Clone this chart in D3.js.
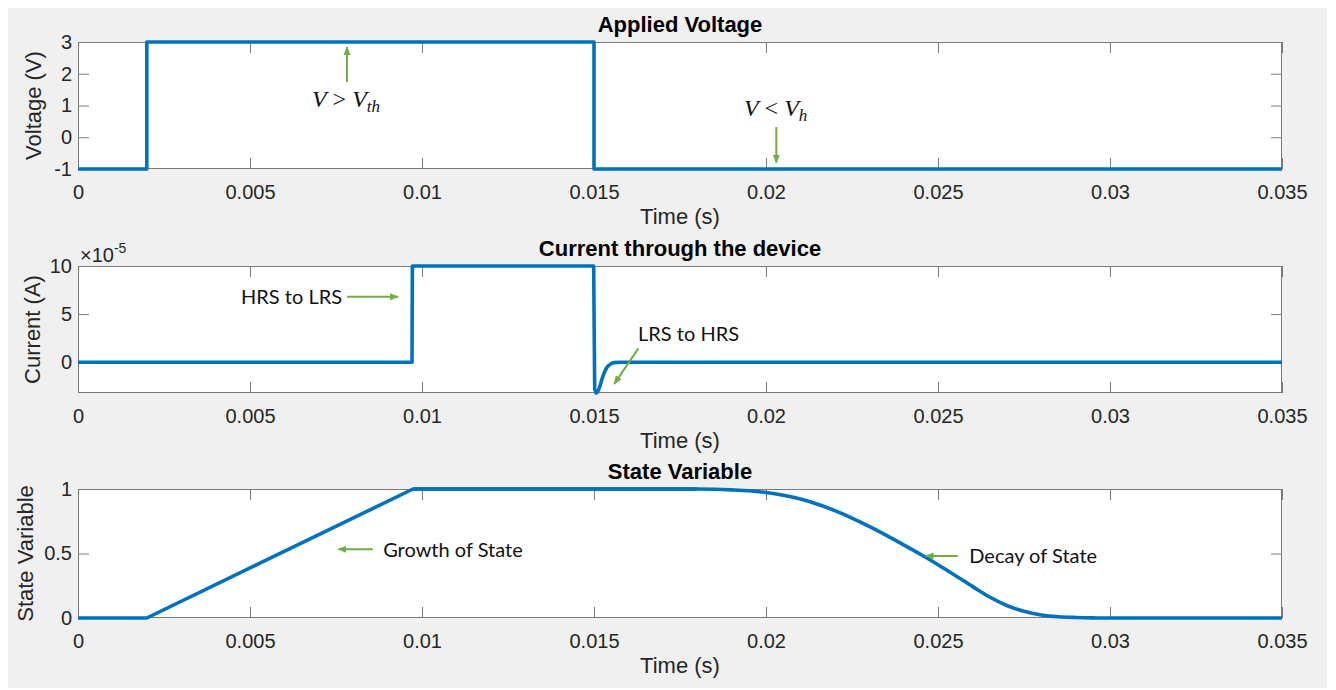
<!DOCTYPE html>
<html><head><meta charset="utf-8">
<script src="https://cdn.jsdelivr.net/npm/d3@7"></script>
<style>
body{margin:0;background:#fff;}
svg{display:block;}
text{white-space:pre;}
</style>
</head><body>
<svg id="chart" width="1336" height="690"></svg>
<script>
// ---------- DATA ----------
const timeDomain = [0, 0.035];
const xTicks = [0, 0.005, 0.01, 0.015, 0.02, 0.025, 0.03, 0.035];
const xTickLabels = ["0", "0.005", "0.01", "0.015", "0.02", "0.025", "0.03", "0.035"];

const voltageTime   = [0, 0.002, 0.002, 0.015, 0.015, 0.035];
const voltageValues = [-1, -1, 3, 3, -1, -1];
const voltageDomain = [-1, 3];
const voltageTicks = [-1, 0, 1, 2, 3];
const voltageTickLabels = ["-1", "0", "1", "2", "3"];

// current in units of 1e-5 A
const currentTime   = [0, 0.00971, 0.00972, 0.01499, 0.01502, 0.01506, 0.0151, 0.01514, 0.01518, 0.01522, 0.01527, 0.01532, 0.01537, 0.01544, 0.01551, 0.0156, 0.01576, 0.035];
const currentValues = [0, 0, 10, 10, -2.8, -3.2, -3.1, -2.8, -2.4, -1.9, -1.35, -0.9, -0.56, -0.3, -0.12, -0.04, 0, 0];
const currentDomain = [-3.2, 10];
const currentTicks = [0, 5, 10];
const currentTickLabels = ["0", "5", "10"];

const stateGrowthTime   = [0, 0.002, 0.00974, 0.018];
const stateGrowthValues = [0, 0, 1, 1];
const stateDecayTime   = [0.00974, 0.018, 0.0185, 0.019, 0.0195, 0.02, 0.0205, 0.021, 0.0215, 0.022, 0.0225, 0.023, 0.0235, 0.024, 0.0245, 0.025, 0.0255, 0.026, 0.0265, 0.027, 0.0275, 0.028, 0.0285, 0.029, 0.0295, 0.03, 0.035];
const stateDecayValues = [1, 1, 0.998, 0.993, 0.986, 0.973, 0.952, 0.922, 0.882, 0.832, 0.775, 0.71, 0.64, 0.567, 0.492, 0.413, 0.33, 0.245, 0.163, 0.097, 0.052, 0.024, 0.01, 0.004, 0.001, 0, 0];
const stateDomain = [0, 1];
const stateTicks = [0, 0.5, 1];
const stateTickLabels = ["0", "0.5", "1"];

const titles  = ["Applied Voltage", "Current through the device", "State Variable"];
const yLabels = ["Voltage (V)", "Current (A)", "State Variable"];
const xLabel  = "Time (s)";

// ---------- LAYOUT ----------
const W = 1336, H = 690;
const left = 78, right = 1282;
const panels = [
  {top: 42,  bottom: 169, domain: voltageDomain, ticks: voltageTicks, labels: voltageTickLabels, ylabX: 41},
  {top: 266, bottom: 393, domain: currentDomain, ticks: currentTicks, labels: currentTickLabels, ylabX: 40},
  {top: 489, bottom: 618, domain: stateDomain,   ticks: stateTicks,   labels: stateTickLabels,   ylabX: 33}
];
const lineColor = "#0072BD";
const green = "#70AD47";
const textColor = "#262626";
const axisColor = "#7a7a7a";
const sans = "'Liberation Sans', Arial, sans-serif";
const annoFont = "Lato, 'Open Sans', sans-serif";
const mathFont = "'Liberation Serif', 'DejaVu Serif', serif";

const svg = d3.select("#chart");
svg.append("rect").attr("x", 8).attr("y", 8).attr("width", 1319).attr("height", 680).attr("fill", "#f0f0f0");

const defs = svg.append("defs");
defs.append("marker").attr("id", "arrow")
  .attr("markerUnits", "userSpaceOnUse")
  .attr("viewBox", "0 0 10 8").attr("refX", 9).attr("refY", 4)
  .attr("markerWidth", 9).attr("markerHeight", 7).attr("orient", "auto")
  .append("path").attr("d", "M0,0 L10,4 L0,8 Z").attr("fill", green);

const x = d3.scaleLinear().domain(timeDomain).range([left, right]);
const yScales = panels.map(p => d3.scaleLinear().domain(p.domain).range([p.bottom, p.top]));

panels.forEach((p, i) => {
  const y = yScales[i];
  const g = svg.append("g");
  g.append("rect").attr("x", left).attr("y", p.top).attr("width", right - left).attr("height", p.bottom - p.top)
    .attr("fill", "#fff");

  const styleAxis = sel => {
    sel.select(".domain").remove();
    sel.selectAll(".tick line").attr("stroke", axisColor).attr("stroke-width", 1);
    sel.selectAll(".tick text").attr("fill", textColor).style("font-family", sans).style("font-size", "20px");
  };
  g.append("g").attr("transform", `translate(0,${p.bottom})`)
    .call(d3.axisBottom(x).tickValues(xTicks).tickFormat((d, k) => xTickLabels[k]).tickSize(-11).tickPadding(16))
    .call(styleAxis);
  g.append("g").attr("transform", `translate(0,${p.top})`)
    .call(d3.axisTop(x).tickValues(xTicks).tickFormat("").tickSize(-11)).call(styleAxis);
  g.append("g").attr("transform", `translate(${left},0)`)
    .call(d3.axisLeft(y).tickValues(p.ticks).tickFormat((d, k) => p.labels[k]).tickSize(-11).tickPadding(6))
    .call(styleAxis);
  g.append("g").attr("transform", `translate(${right},0)`)
    .call(d3.axisRight(y).tickValues(p.ticks).tickFormat("").tickSize(-11)).call(styleAxis);

  g.append("rect").attr("x", left + 0.5).attr("y", p.top + 0.5).attr("width", right - left - 1).attr("height", p.bottom - p.top - 1)
    .attr("fill", "none").attr("stroke", axisColor).attr("stroke-width", 1);

  // title
  g.append("text").attr("x", (left + right) / 2).attr("y", p.top - 10).attr("text-anchor", "middle")
    .style("font-family", sans).style("font-size", "22px").style("font-weight", "bold").attr("fill", "#000")
    .text(titles[i]);
  // x label
  g.append("text").attr("x", (left + right) / 2).attr("y", p.bottom + 55).attr("text-anchor", "middle")
    .style("font-family", sans).style("font-size", "22px").attr("fill", textColor).text(xLabel);
  // y label
  g.append("text").attr("transform", `translate(${p.ylabX},${(p.top + p.bottom) / 2}) rotate(-90)`)
    .attr("text-anchor", "middle").style("font-family", sans).style("font-size", "22px").attr("fill", textColor)
    .text(yLabels[i]);
});

// exponent label for current axis
const expT = svg.append("text").attr("x", 80).attr("y", 262).style("font-family", sans).style("font-size", "20px").attr("fill", textColor);
expT.append("tspan").text("\u00d710");
expT.append("tspan").attr("dy", -9).style("font-size", "14px").text("-5");

// ---------- LINES ----------
const zip = (a, b) => a.map((t, k) => [t, b[k]]);
function drawLine(panelIdx, data, curve) {
  const y = yScales[panelIdx];
  svg.append("path").datum(data)
    .attr("d", d3.line().x(d => x(d[0])).y(d => y(d[1])).curve(curve))
    .attr("fill", "none").attr("stroke", lineColor).attr("stroke-width", 3.6)
    .attr("stroke-linejoin", "round").attr("stroke-linecap", "butt");
}
drawLine(0, zip(voltageTime, voltageValues), d3.curveLinear);
drawLine(1, zip(currentTime, currentValues), d3.curveLinear);
drawLine(2, zip(stateGrowthTime, stateGrowthValues), d3.curveLinear);
drawLine(2, zip(stateDecayTime, stateDecayValues), d3.curveMonotoneX);

// ---------- ANNOTATIONS (data coordinates) ----------
const arrows = [
  {p: 0, from: [0.00782, 1.74], to: [0.00782, 2.84]},
  {p: 0, from: [0.0203, 0.32], to: [0.0203, -0.8]},
  {p: 1, from: [0.00782, 6.8], to: [0.00930, 6.8]},
  {p: 1, from: [0.01629, 1.44], to: [0.01559, -2.25]},
  {p: 2, from: [0.00857, 0.532], to: [0.00757, 0.532]},
  {p: 2, from: [0.02558, 0.481], to: [0.02464, 0.481]}
];
arrows.forEach(a => {
  const y = yScales[a.p];
  svg.append("line").attr("x1", x(a.from[0])).attr("y1", y(a.from[1]))
    .attr("x2", x(a.to[0])).attr("y2", y(a.to[1]))
    .attr("stroke", green).attr("stroke-width", 2).attr("marker-end", "url(#arrow)");
});

const labels = [
  {p: 1, at: [0.00474, 6.05], text: "HRS to LRS"},
  {p: 1, at: [0.01628, 2.2], text: "LRS to HRS"},
  {p: 2, at: [0.00887, 0.473], text: "Growth of State"},
  {p: 2, at: [0.02591, 0.426], text: "Decay of State"}
];
labels.forEach(l => {
  svg.append("text").attr("x", x(l.at[0])).attr("y", yScales[l.p](l.at[1]))
    .style("font-family", annoFont).style("font-size", "20px").attr("fill", "#111").text(l.text);
});

const mathLabels = [
  {p: 0, at: [0.00779, 0.95], rel: " > ", sub: "th"},
  {p: 0, at: [0.02028, 0.67], rel: " < ", sub: "h"}
];
mathLabels.forEach(m => {
  const t = svg.append("text").attr("x", x(m.at[0])).attr("y", yScales[m.p](m.at[1])).attr("text-anchor", "middle")
    .style("font-family", mathFont).style("font-size", "24px").attr("fill", "#111");
  t.append("tspan").style("font-style", "italic").text("V");
  t.append("tspan").text(m.rel);
  t.append("tspan").style("font-style", "italic").text("V");
  t.append("tspan").attr("dy", 5).style("font-style", "italic").style("font-size", "17px").text(m.sub);
});
</script>
</body></html>
